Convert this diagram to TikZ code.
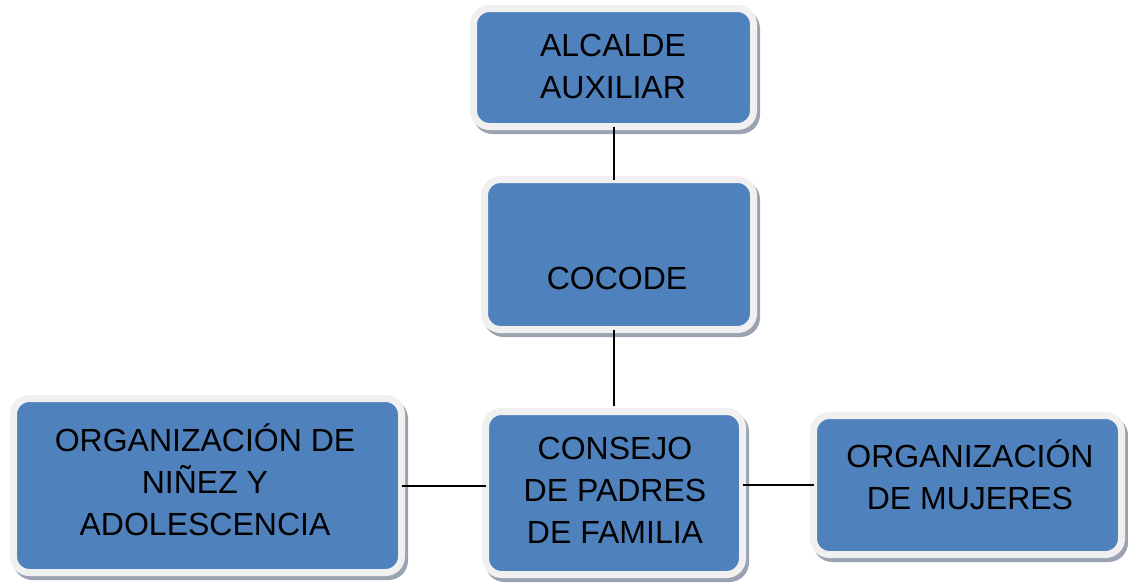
\documentclass[tikz,border=0pt]{standalone}
\usepackage{fontspec}
\setmainfont{Liberation Sans}
\usetikzlibrary{shadows}
\definecolor{boxblue}{HTML}{4F81BD}
\definecolor{boxrim}{HTML}{F0F0F0}
\definecolor{boxshade}{RGB}{155,163,178}

\begin{document}
\begin{tikzpicture}[x=1pt,y=-1pt,
    box/.style={draw=boxrim, line width=7pt, fill=boxblue, rounded corners=16pt,
      outer sep=0pt, inner sep=0pt,
      drop shadow={shadow xshift=3pt, shadow yshift=-4pt, draw=boxshade,
        line width=7pt, fill=boxshade, opacity=1}},
    txt/.style={align=center, font=\fontsize{32}{42}\selectfont},
    link/.style={black, line width=2pt}]
  \useasboundingbox (0,0) rectangle (1128,582);

% boxes
  \node[box, minimum width=280pt, minimum height=118pt] (alcalde) at (613.5,67.5) {};
  \node[box, minimum width=269pt, minimum height=150pt] (cocode) at (619,254.5) {};
  \node[box, minimum width=257pt, minimum height=163pt] (consejo) at (614,493) {};
  \node[box, minimum width=388pt, minimum height=174pt] (ninez) at (207.5,485.5) {};
  \node[box, minimum width=308pt, minimum height=139pt] (mujeres) at (967.5,485) {};

% box texts
  \node[txt] (alcaldeT) at (613,66) {ALCALDE\\AUXILIAR};
  \node[txt] (cocodeT) at (617,278) {COCODE};
  \node[txt] (consejoT) at (615,490.5) {CONSEJO\\DE PADRES\\DE FAMILIA};
  \node[txt] (ninezT) at (205,479.5) {ORGANIZACIÓN DE\\NIÑEZ Y\\ADOLESCENCIA};
  \node[txt] (mujeresT) at (970,475) {ORGANIZACIÓN\\DE MUJERES};

% connectors
  \draw[link] (alcalde.south) -- (alcalde.south |- cocode.north);
  \draw[link, shorten >=6pt] (alcalde.south |- cocode.south) -- (alcalde.south |- consejo.north);
  \draw[link] (ninez.east) -- (ninez.east -| consejo.west);
  \draw[link] (consejo.east |- mujeres.west) -- (mujeres.west);
\end{tikzpicture}
\end{document}
